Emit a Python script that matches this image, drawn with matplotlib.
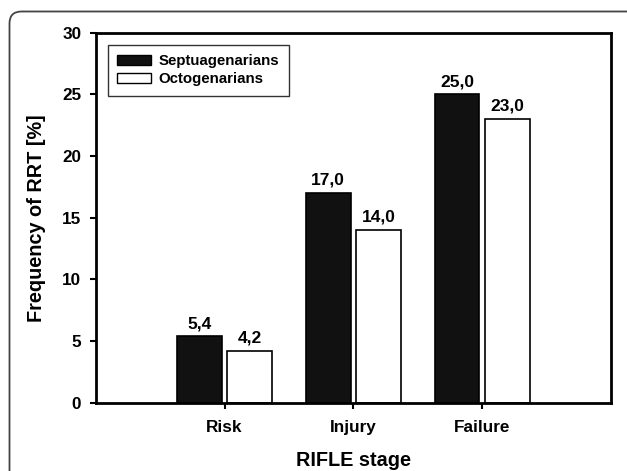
import numpy as np
import matplotlib
matplotlib.use('Agg')
from matplotlib import pyplot as plt
from matplotlib.patches import Patch, FancyBboxPatch
from matplotlib.transforms import IdentityTransform

stages = ['Risk', 'Injury', 'Failure']
septuagenarians = [5.4, 17.0, 25.0]
octogenarians = [4.2, 14.0, 23.0]
series_names = ['Septuagenarians', 'Octogenarians']

plt.rcParams['font.family'] = ['Liberation Sans', 'DejaVu Sans']
plt.rcParams['font.weight'] = 'bold'

fig = plt.figure(figsize=(6.27, 4.71), dpi=100)
ax = fig.add_axes([0.1526, 0.145, 0.8219, 0.7856])

x = np.arange(len(stages))
w = 0.348
off = 0.195
b1 = ax.bar(x - off, septuagenarians, w, color='#111111', edgecolor='black', linewidth=1.2)
b2 = ax.bar(x + off, octogenarians, w, color='white', edgecolor='black', linewidth=1.2)

# value labels above the bars
for bars, vals in ((b1, septuagenarians), (b2, octogenarians)):
    for r, v in zip(bars, vals):
        ax.annotate(('%.1f' % v).replace('.', ','),
                    (r.get_x() + r.get_width() / 2, v),
                    xytext=(0, 5.8), textcoords='offset points',
                    ha='center', va='baseline', fontsize=12.5, fontweight='bold')

ax.set_xlim(-1, 3)
ax.set_ylim(0, 30)
ax.set_yticks(range(0, 31, 5))
ax.set_xticks(x)
ax.set_xticklabels(stages)
ax.tick_params(axis='both', direction='out', length=4.3, width=1.5, labelsize=12.3)
ax.tick_params(axis='y', pad=6)
ax.tick_params(axis='x', pad=8)
for lbl in ax.get_xticklabels() + ax.get_yticklabels():
    lbl.set_fontweight('bold')
for s in ax.spines.values():
    s.set_linewidth(2)

handles = [Patch(facecolor='#111111', edgecolor='black', linewidth=1),
           Patch(facecolor='white', edgecolor='black', linewidth=1)]
leg = ax.legend(handles, series_names, loc='upper left',
                bbox_to_anchor=(0.0233, 0.9676), borderaxespad=0,
                fontsize=10.8, handlelength=2.25, handleheight=0.67,
                handletextpad=0.5, borderpad=0.65, labelspacing=0.25,
                fancybox=False, frameon=True)
leg.get_frame().set_edgecolor('black')
leg.get_frame().set_linewidth(1)
for t in leg.get_texts():
    t.set_fontweight('bold')

fig.text(37 / 627, 1 - 217.7 / 471, 'Frequency of RRT [%]', rotation=90,
         ha='center', va='center', fontsize=14.3, fontweight='bold')
fig.text(353.3 / 627, 1 - 466 / 471, 'RIFLE stage',
         ha='center', va='baseline', fontsize=14.3, fontweight='bold')

# outer rounded frame
frame = FancyBboxPatch((9.5, -60), 700, 471 - 11.5 + 60,
                       boxstyle='round,pad=0,rounding_size=12',
                       transform=IdentityTransform(), facecolor='none',
                       edgecolor='#444444', linewidth=1.3)
fig.patches.append(frame)

fig.savefig('out.png', dpi=100)
